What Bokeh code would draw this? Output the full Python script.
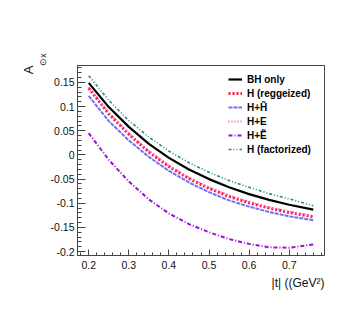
import math
from bokeh.plotting import figure
from bokeh.models import (Range1d, FixedTicker, CustomJSTickFormatter, Legend,
                          LegendItem, Title)
from bokeh.embed import file_html
from bokeh.resources import INLINE

# |t| values (GeV^2)
t_vals = [0.20, 0.25, 0.30, 0.35, 0.40, 0.45, 0.50, 0.55, 0.60, 0.65, 0.70, 0.76]

bh_only = [0.149, 0.099, 0.058, 0.023, -0.006, -0.030, -0.050, -0.067, -0.081, -0.093, -0.103, -0.113]
h_reggeized = [0.138, 0.085, 0.043, 0.006, -0.024, -0.049, -0.069, -0.086, -0.099, -0.110, -0.119, -0.128]
h_htilde = [0.122, 0.070, 0.030, -0.004, -0.033, -0.057, -0.077, -0.094, -0.107, -0.118, -0.127, -0.135]
h_e = [0.140, 0.087, 0.045, 0.008, -0.022, -0.047, -0.067, -0.084, -0.097, -0.108, -0.117, -0.126]
h_etilde = [0.045, -0.010, -0.055, -0.092, -0.121, -0.143, -0.160, -0.174, -0.184, -0.191, -0.192, -0.185]
h_factorized = [0.164, 0.113, 0.071, 0.037, 0.008, -0.016, -0.036, -0.053, -0.067, -0.080, -0.091, -0.105]

y_ticks = [-0.2, -0.15, -0.1, -0.05, 0.0, 0.05, 0.1, 0.15]
x_ticks = [0.2, 0.3, 0.4, 0.5, 0.6, 0.7]

FONT = "Liberation Sans"

p = figure(width=346, height=319, output_backend="svg", toolbar_location=None,
           x_range=Range1d(0.172, 0.788), y_range=Range1d(-0.208, 0.185),
           min_border_left=77, min_border_right=22, min_border_top=65,
           min_border_bottom=64)
p.background_fill_color = "white"
p.border_fill_color = "white"
p.outline_line_color = "#444444"
p.outline_line_width = 1
p.grid.visible = False

y_minor = [round(-0.21 + 0.01 * i, 3) for i in range(40)]
x_minor = [round(0.18 + 0.02 * i, 3) for i in range(31)]
p.yaxis.ticker = FixedTicker(ticks=y_ticks, minor_ticks=y_minor)
p.xaxis.ticker = FixedTicker(ticks=x_ticks, minor_ticks=x_minor)
p.yaxis.formatter = CustomJSTickFormatter(code="return Number(tick.toFixed(2)).toString();")
p.xaxis.formatter = CustomJSTickFormatter(code="return Number(tick.toFixed(2)).toString();")

for ax in (p.xaxis[0], p.yaxis[0]):
    ax.axis_line_color = "#444444"
    ax.major_tick_line_color = "#444444"
    ax.minor_tick_line_color = "#444444"
    ax.major_tick_out = 0
    ax.minor_tick_out = 0
    ax.major_label_text_font = FONT
    ax.major_label_text_font_size = "10.5px"
    ax.major_label_text_color = "#111111"
p.yaxis.major_tick_in = 8
p.yaxis.minor_tick_in = 4
p.xaxis.major_tick_in = 6
p.xaxis.minor_tick_in = 3
p.yaxis.major_label_standoff = 3
p.xaxis.major_label_standoff = 5

series = [
    ("BH only", bh_only, dict(line_color="black", line_width=2.2, line_dash="solid")),
    ("H (reggeized)", h_reggeized, dict(line_color="#ff1a3c", line_width=3, line_dash="2 2")),
    ("H+H\u0303", h_htilde, dict(line_color="#6f6fff", line_width=2, line_dash="4 1")),
    ("H+E", h_e, dict(line_color="#ff55cc", line_width=2, line_dash="1 2")),
    ("H+\u1EBC", h_etilde, dict(line_color="#9a10d8", line_width=2, line_dash="4 2 1 2")),
    ("H (factorized)", h_factorized, dict(line_color="#2a8a8a", line_width=1.6, line_dash="3 2 1 2 1 2")),
]

renderers = {}
for idx in [1, 3, 2, 4, 5, 0]:
    name, ys, style = series[idx]
    renderers[idx] = p.line(t_vals, ys, **style)
items = [LegendItem(label=series[i][0], renderers=[renderers[i]]) for i in range(len(series))]

legend = Legend(items=items, location=(151, 99), padding=0, margin=0, spacing=0,
                glyph_width=14, glyph_height=14, label_height=14, label_standoff=5,
                label_text_font=FONT, label_text_font_style="bold",
                label_text_font_size="10px", label_text_color="black",
                border_line_color=None, background_fill_alpha=0)
p.add_layout(legend)

# axis titles (ROOT style) as side-panel titles
p.add_layout(Title(text="\u2299x", align="right", offset=-12, standoff=0,
                   text_font=FONT, text_font_size="8.5px", text_font_style="normal",
                   text_color="#111111"), "left")
p.add_layout(Title(text="A", align="right", offset=0, standoff=0,
                   text_font=FONT, text_font_size="13px", text_font_style="normal",
                   text_color="#111111"), "left")
p.add_layout(Title(text="|t| ((GeV\u00b2)", align="right", offset=0, standoff=4,
                   text_font=FONT, text_font_size="12px", text_font_style="normal",
                   text_color="#111111"), "below")

open("out.html", "w").write(file_html(p, INLINE))
